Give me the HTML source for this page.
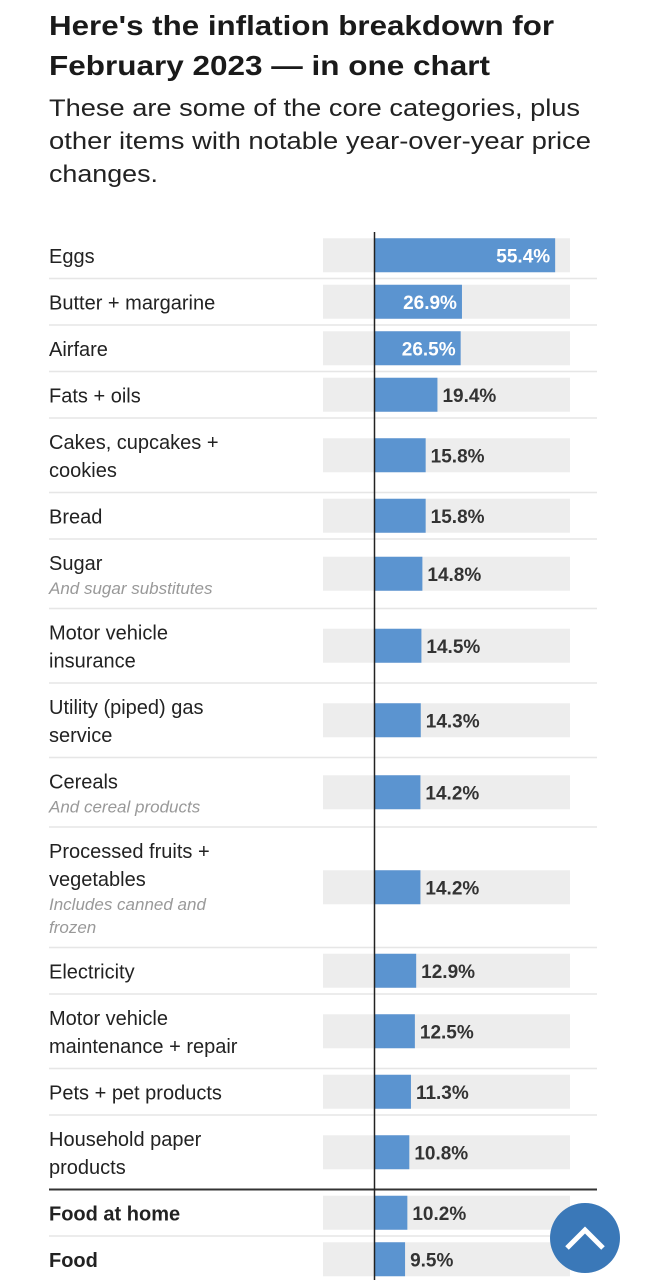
<!DOCTYPE html>
<html><head><meta charset="utf-8">
<style>
html,body{margin:0;padding:0;background:#fff;}
svg{display:block;font-family:"Liberation Sans",Arial,sans-serif;}
</style></head>
<body>
<svg id="chart" width="647" height="1280" viewBox="0 0 647 1280" xmlns="http://www.w3.org/2000/svg">
<g>
<text x="49" y="35" font-size="28" font-weight="bold" fill="#1a1a1a" textLength="505" lengthAdjust="spacingAndGlyphs">Here's the inflation breakdown for</text>
<text x="49" y="75" font-size="28" font-weight="bold" fill="#1a1a1a" textLength="441" lengthAdjust="spacingAndGlyphs">February 2023 — in one chart</text>
<text x="49" y="116" font-size="24" fill="#222" textLength="531" lengthAdjust="spacingAndGlyphs">These are some of the core categories, plus</text>
<text x="49" y="149" font-size="24" fill="#222" textLength="542" lengthAdjust="spacingAndGlyphs">other items with notable year-over-year price</text>
<text x="49" y="182" font-size="24" fill="#222" textLength="109" lengthAdjust="spacingAndGlyphs">changes.</text>
</g>
<g id="rows"></g>
<line x1="374.5" y1="232" x2="374.5" y2="1280" stroke="#222" stroke-width="1.5"/>
<g>
<circle cx="585" cy="1238" r="35" fill="#3a78b8"/>
<polyline points="567,1248 585,1230 603,1248" fill="none" stroke="#fff" stroke-width="5"/>
</g>
</svg>
<script>
const categories=["Eggs","Butter + margarine","Airfare","Fats + oils","Cakes, cupcakes + cookies","Bread","Sugar","Motor vehicle insurance","Utility (piped) gas service","Cereals","Processed fruits + vegetables","Electricity","Motor vehicle maintenance + repair","Pets + pet products","Household paper products","Food at home","Food"];
const values=[55.4,26.9,26.5,19.4,15.8,15.8,14.8,14.5,14.3,14.2,14.2,12.9,12.5,11.3,10.8,10.2,9.5];
const valueLabels=["55.4%","26.9%","26.5%","19.4%","15.8%","15.8%","14.8%","14.5%","14.3%","14.2%","14.2%","12.9%","12.5%","11.3%","10.8%","10.2%","9.5%"];
const labelLines=[["Eggs"],["Butter + margarine"],["Airfare"],["Fats + oils"],["Cakes, cupcakes +","cookies"],["Bread"],["Sugar"],["Motor vehicle","insurance"],["Utility (piped) gas","service"],["Cereals"],["Processed fruits +","vegetables"],["Electricity"],["Motor vehicle","maintenance + repair"],["Pets + pet products"],["Household paper","products"],["Food at home"],["Food"]];
const noteLines=[[],[],[],[],[],[],["And sugar substitutes"],[],[],["And cereal products"],["Includes canned and","frozen"],[],[],[],[],[],[]];
const boldRows=[false,false,false,false,false,false,false,false,false,false,false,false,false,false,false,true,true];

const NS="http://www.w3.org/2000/svg";
const g=document.getElementById("rows");
const x0=374, pxPer=3.27, trackL=323, trackR=570;
const xScale=v=>x0+v*pxPer;
function el(t,a){const e=document.createElementNS(NS,t);for(const k in a)e.setAttribute(k,a[k]);return e;}
let y=232;
categories.forEach((c,i)=>{
  const nL=labelLines[i].length, nN=noteLines[i].length;
  const textH=nL*28+nN*23;
  const rowH=18.5+textH;
  const top=y, bottom=y+rowH;
  const barH=34, barY=top+(rowH-barH)/2;
  const row=el("g",{});
  
  
  const track=el("rect",{x:trackL,y:barY,width:trackR-trackL,height:barH,fill:"#ededed"});
  
  
  row.appendChild(track);
  const bar=el("rect",{x:x0,y:barY,width:xScale(values[i])-x0,height:barH,fill:"#5b94d0"});
  
  
  row.appendChild(bar);
  const inside=values[i]>25;
  const vt=el("text",{x:inside?xScale(values[i])-5:xScale(values[i])+5,y:barY+barH/2+7,"font-size":19,"font-weight":"bold",fill:inside?"#fff":"#333","text-anchor":inside?"end":"start"});
  vt.textContent=valueLabels[i];
  
  
  row.appendChild(vt);
  let ty=top+(rowH-textH)/2+21.5;
  labelLines[i].forEach(l=>{
    const t=el("text",{x:49,y:ty,"font-size":20,fill:"#222","font-weight":boldRows[i]?"bold":"normal"});
    t.textContent=l;
    
    
    row.appendChild(t);ty+=28;
  });
  ty-=4;
  noteLines[i].forEach(l=>{
    const t=el("text",{x:49,y:ty,"font-size":17,fill:"#999","font-style":"italic"});
    t.textContent=l;
    
    
    row.appendChild(t);ty+=23;
  });
  if(i<categories.length-1){
    const sep=el("line",{x1:49,x2:597,y1:bottom,y2:bottom,stroke:i==14?"#333":"#e6e6e6","stroke-width":i==14?2:1.5});
    
    
    row.appendChild(sep);
  }
  g.appendChild(row);
  y=bottom;
});
</script>
</body></html>
